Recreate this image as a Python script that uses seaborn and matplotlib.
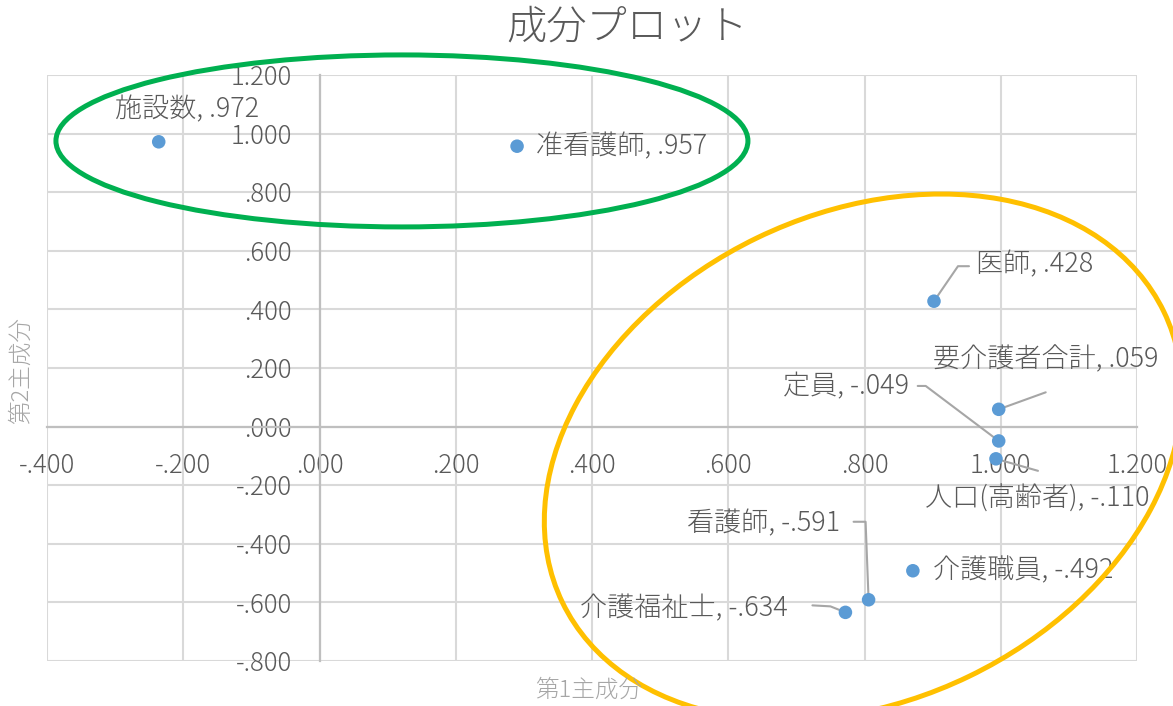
import matplotlib
matplotlib.use("Agg")
import matplotlib.pyplot as plt
import matplotlib.transforms as mtransforms
from matplotlib.patches import Ellipse
from matplotlib.lines import Line2D
from matplotlib.ticker import FuncFormatter, MultipleLocator
import pandas as pd
import seaborn as sns

# Component loadings
names = ["施設数", "准看護師", "医師", "要介護者合計", "定員",
         "人口(高齢者)", "介護職員", "看護師", "介護福祉士"]
pc1 = [-0.236, 0.290, 0.902, 0.997, 0.997, 0.993, 0.871, 0.806, 0.772]
pc2 = [0.972, 0.957, 0.428, 0.059, -0.049, -0.110, -0.492, -0.591, -0.634]

title = "成分プロット"
x_title = "第1主成分"
y_title = "第2主成分"

sns.set_theme(style="white")
plt.rcParams["font.family"] = ["Noto Sans CJK JP", "DejaVu Sans"]

FIG_W, FIG_H, DPI = 1173, 706, 100
fig, ax = plt.subplots(figsize=(FIG_W / DPI, FIG_H / DPI), dpi=DPI)
fig.subplots_adjust(left=47 / FIG_W, right=1137 / FIG_W,
                    bottom=1 - 661 / FIG_H, top=1 - 75 / FIG_H)

df = pd.DataFrame({"name": names, "pc1": pc1, "pc2": pc2})

TEXT = "#595959"
LIGHT = "#A6A6A6"
GRID = "#D9D9D9"
AXIS = "#BFBFBF"
BLUE = "#5B9BD5"


def fmt(v):
    s = f"{v:.3f}"
    return s.replace("0.", ".", 1) if s.lstrip("-").startswith("0.") else s


ax.set_xlim(-0.4, 1.2)
ax.set_ylim(-0.8, 1.2)
ax.xaxis.set_major_locator(MultipleLocator(0.2))
ax.yaxis.set_major_locator(MultipleLocator(0.2))
ax.xaxis.set_major_formatter(FuncFormatter(lambda v, p: fmt(v)))
ax.yaxis.set_major_formatter(FuncFormatter(lambda v, p: fmt(v)))

ax.grid(True, color=GRID, lw=1.5)
ax.set_axisbelow(True)
for gl in ax.get_xgridlines() + ax.get_ygridlines():
    gl.set_clip_on(False)

for side in ("top", "right"):
    ax.spines[side].set_visible(False)
for side in ("left", "bottom"):
    ax.spines[side].set_position(("data", 0))
    ax.spines[side].set_color(AXIS)
    ax.spines[side].set_linewidth(1.6)

ax.tick_params(axis="both", length=0, labelsize=18.5, labelcolor=TEXT)
ax.tick_params(axis="y", pad=20)
ax.tick_params(axis="x", pad=19)
for lbl in ax.get_xticklabels() + ax.get_yticklabels():
    lbl.set_fontweight("light")

sns.scatterplot(data=df, x="pc1", y="pc2", ax=ax, s=95, color=BLUE,
                edgecolor="none", zorder=4, legend=False)
ax.set_xlabel("")
ax.set_ylabel("")


def pt_transform(x, y):
    """Transform for offsets in points around a data location."""
    return (mtransforms.Affine2D().scale(1 / 72) + fig.dpi_scale_trans
            + mtransforms.ScaledTranslation(x, y, ax.transData))


PX = 72 / DPI
# label placement: (dx, dy) in px, horizontal alignment, leader vertices in px
label_style = {
    "施設数": ((28, 32), "center", None),
    "准看護師": ((19, 0), "left", None),
    "医師": ((42, 37), "left", [(0, 0), (24, 35), (35, 35)]),
    "要介護者合計": ((47, 50), "center", [(0, 0), (47, 17)]),
    "定員": ((-90, 55), "right", [(0, 0), (-73, 55), (-81, 55)]),
    "人口(高齢者)": ((41, -40), "center", [(0, 0), (42, -12)]),
    "介護職員": ((20, 0), "left", None),
    "看護師": ((-28, 76), "right", [(0, 0), (-3, 78), (-15, 78)]),
    "介護福祉士": ((-58, 4), "right", [(0, 0), (-15, 6), (-33, 7)]),
}

for n, x, y in zip(names, pc1, pc2):
    (dx, dy), ha, leader = label_style[n]
    ax.annotate(f"{n}, {fmt(y)}", (x, y), xytext=(dx * PX, dy * PX),
                textcoords="offset points", ha=ha, va="center",
                fontsize=19.5, color=TEXT, fontweight="light", zorder=5,
                annotation_clip=False)
    if leader:
        xs = [v[0] * PX for v in leader]
        ys = [v[1] * PX for v in leader]
        ax.add_line(Line2D(xs, ys, color=LIGHT, lw=1.5,
                           transform=pt_transform(x, y), zorder=3,
                           clip_on=False))

# Group outlines
groups = [
    # (centre x, centre y, width px, height px, angle, colour)
    (0.121, 0.975, 692, 172, 0, "#00B050"),
    (0.798, -0.104, 668, 487, 25.8, "#FFC000"),
]
for cx, cy, w, h, ang, col in groups:
    e = Ellipse((0, 0), w * PX, h * PX, angle=ang, fill=False,
                edgecolor=col, lw=3.6, transform=pt_transform(cx, cy),
                clip_on=False, zorder=6)
    ax.add_patch(e)

fig.text(627 / FIG_W, 1 - 28 / FIG_H, title, ha="center", va="center",
         fontsize=29, color=TEXT, fontweight="light")
fig.text(589 / FIG_W, 1 - 690 / FIG_H, x_title, ha="center", va="center",
         fontsize=17, color=LIGHT, fontweight="light")
fig.text(21 / FIG_W, 1 - 370 / FIG_H, y_title, ha="center", va="center",
         rotation=90, fontsize=17, color=LIGHT, fontweight="light")

fig.savefig("out.png", dpi=DPI)
